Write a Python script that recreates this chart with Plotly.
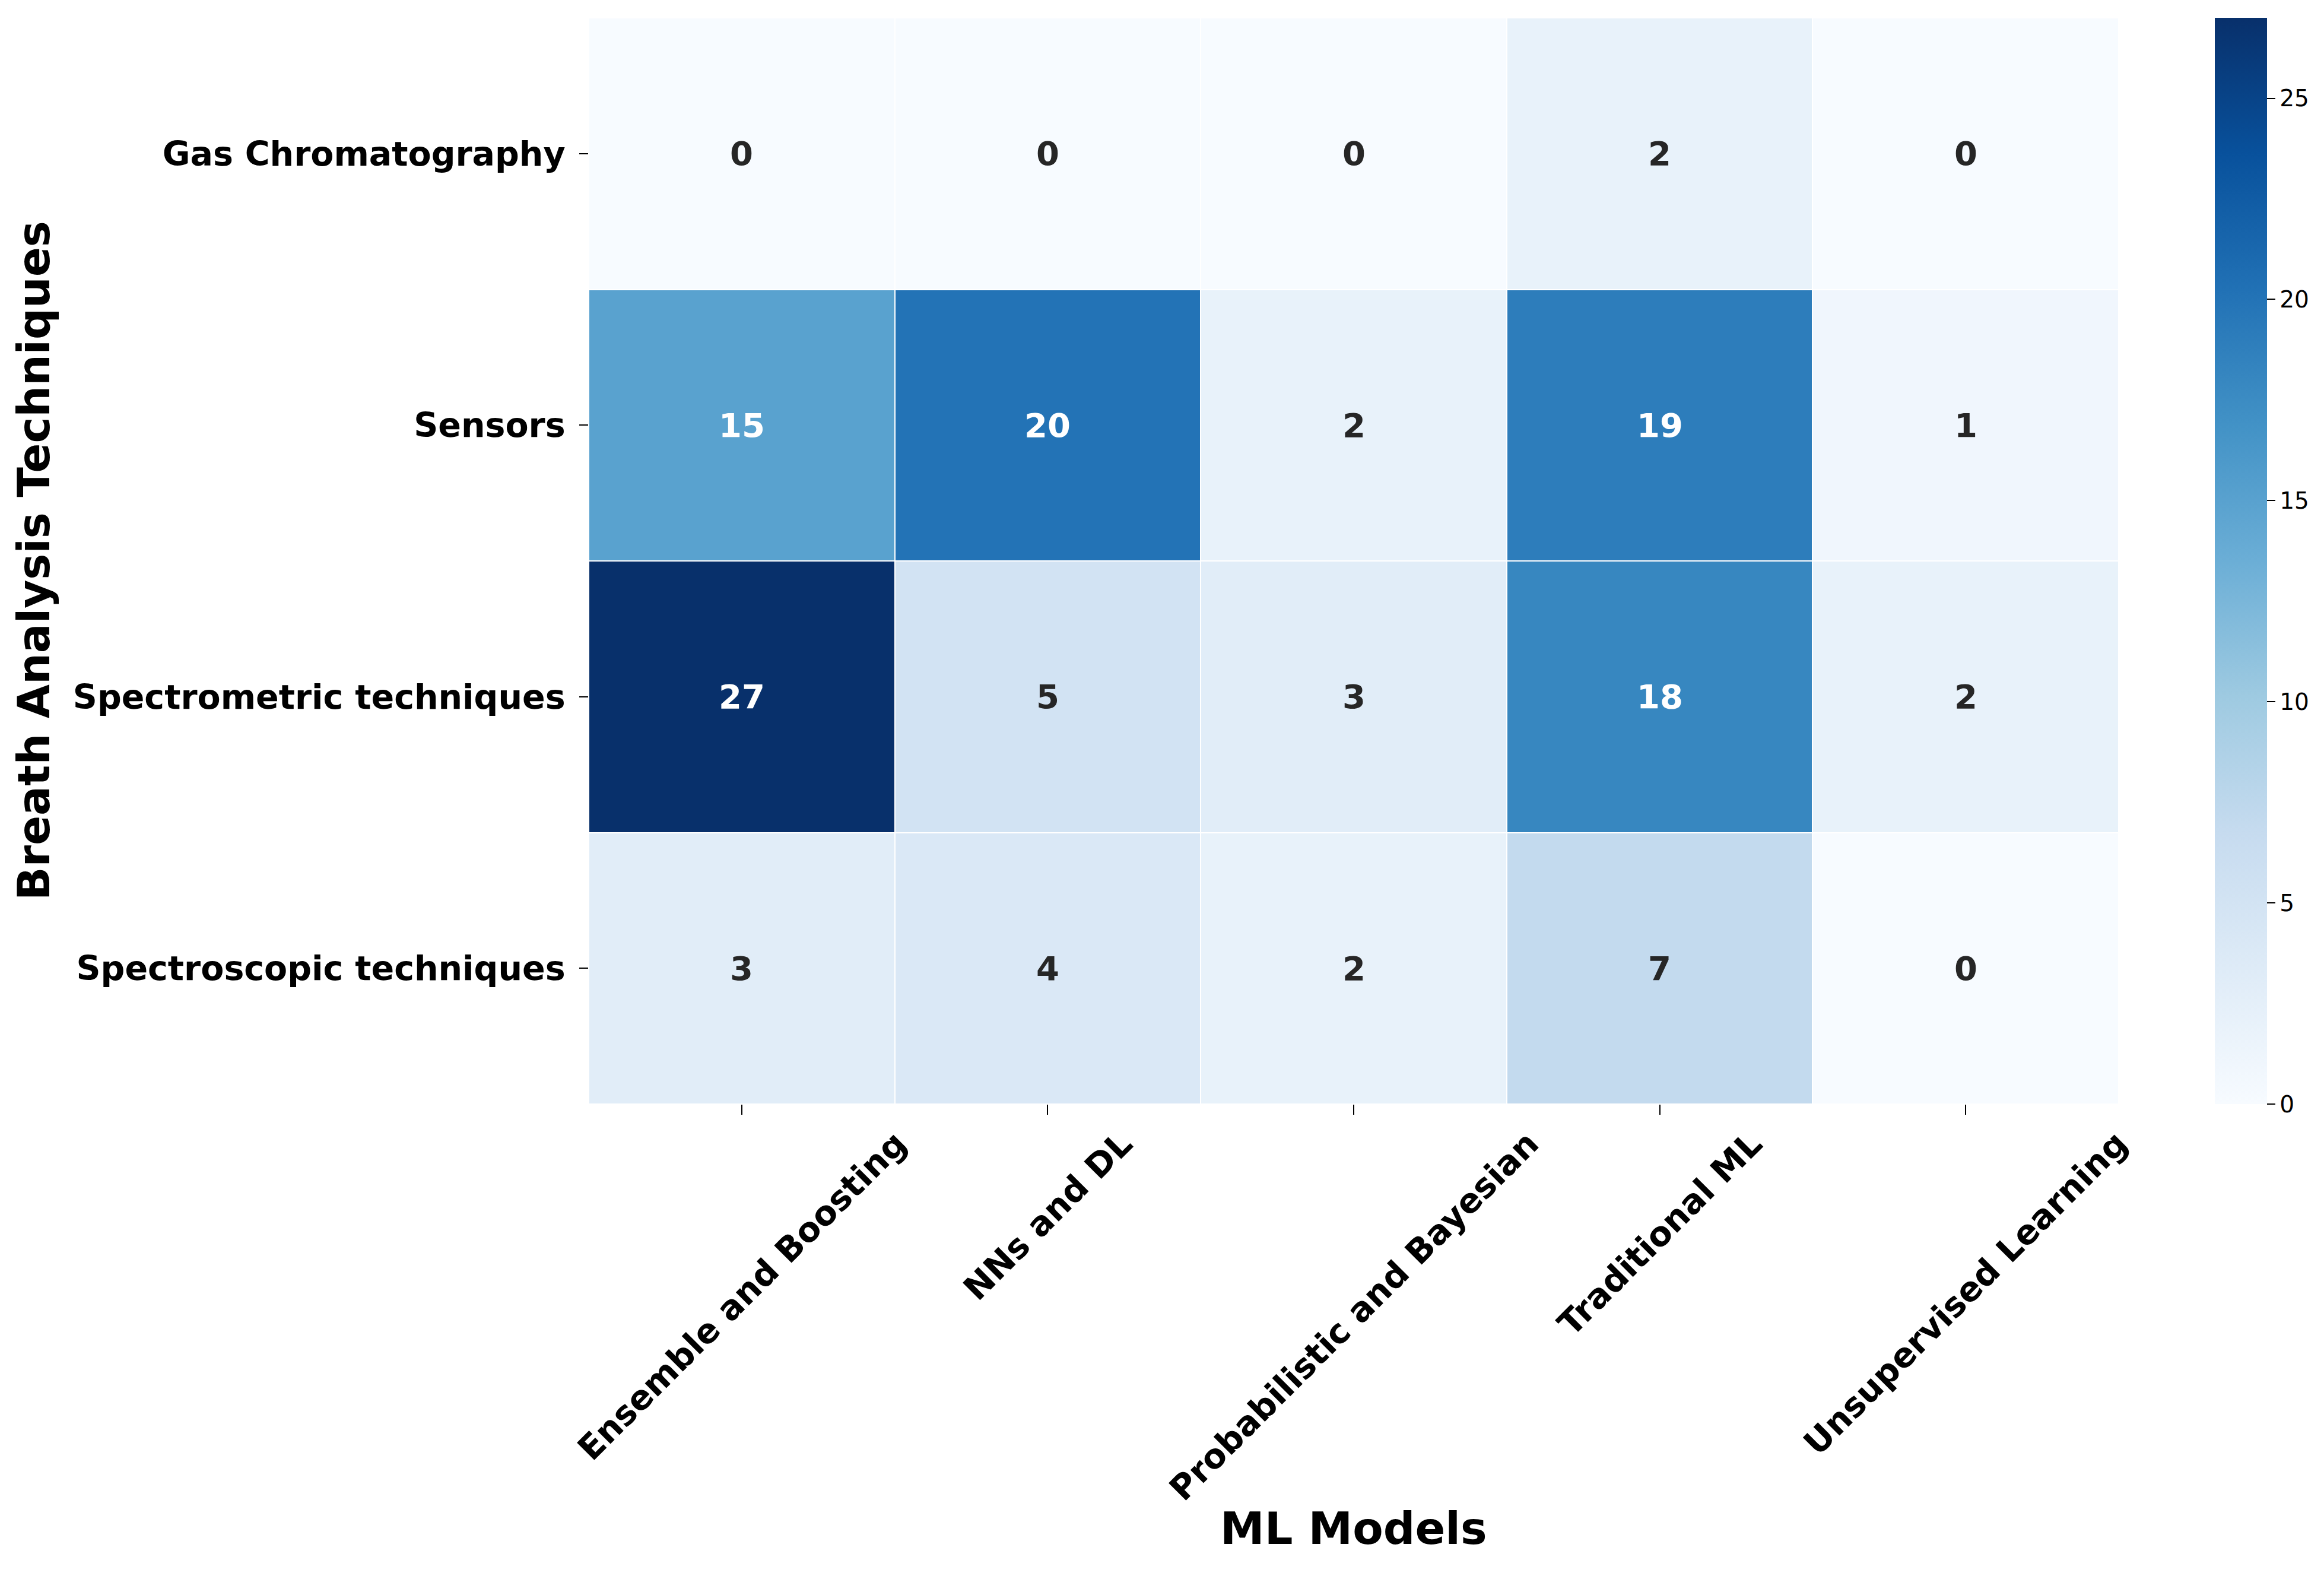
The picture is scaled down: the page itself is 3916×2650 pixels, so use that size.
import plotly.graph_objects as go

ml_models = ["Ensemble and Boosting", "NNs and DL", "Probabilistic and Bayesian",
             "Traditional ML", "Unsupervised Learning"]
techniques = ["Gas Chromatography", "Sensors", "Spectrometric techniques",
              "Spectroscopic techniques"]
gas_chromatography = [0, 0, 0, 2, 0]
sensors = [15, 20, 2, 19, 1]
spectrometric = [27, 5, 3, 18, 2]
spectroscopic = [3, 4, 2, 7, 0]
cbar_ticks = [0, 5, 10, 15, 20, 25]

z = [gas_chromatography, sensors, spectrometric, spectroscopic]
zmin, zmax = 0, 27

blues = ['rgb(247,251,255)', 'rgb(222,235,247)', 'rgb(198,219,239)', 'rgb(158,202,225)',
         'rgb(107,174,214)', 'rgb(66,146,198)', 'rgb(33,113,181)', 'rgb(8,81,156)',
         'rgb(8,48,107)']
colorscale = [[i / (len(blues) - 1), c] for i, c in enumerate(blues)]

FONT = "DejaVu Sans"

fig = go.Figure(go.Heatmap(
    z=z, x=ml_models, y=techniques,
    colorscale=colorscale, zmin=zmin, zmax=zmax,
    xgap=2, ygap=2, hoverinfo="skip",
    colorbar=dict(
        x=1.0628, xanchor="left", xpad=0, y=0.5, yanchor="middle", ypad=0,
        len=1, lenmode="fraction", thickness=88, thicknessmode="pixels",
        outlinewidth=0, tickvals=cbar_ticks, ticks="outside", ticklen=14,
        tickwidth=2, tickcolor="black",
        tickfont=dict(family=FONT, size=39, color="black"),
    ),
))


def lum(v):
    t = (v - zmin) / (zmax - zmin)
    pos = t * (len(blues) - 1)
    i = min(int(pos), len(blues) - 2)
    f = pos - i
    a = [int(s) for s in blues[i][4:-1].split(",")]
    b = [int(s) for s in blues[i + 1][4:-1].split(",")]
    rgb = [(a[k] + (b[k] - a[k]) * f) / 255 for k in range(3)]
    lin = [c / 12.92 if c <= 0.03928 else ((c + 0.055) / 1.055) ** 2.4 for c in rgb]
    return 0.2126 * lin[0] + 0.7152 * lin[1] + 0.0722 * lin[2]


annotations = []
for r, tech in enumerate(techniques):
    for c, model in enumerate(ml_models):
        v = z[r][c]
        annotations.append(dict(
            x=model, y=tech, xref="x", yref="y", text=str(v), showarrow=False,
            font=dict(family=FONT, size=56, weight="bold",
                      color="white" if lum(v) < 0.408 else "#262626"),
        ))

for model in ml_models:
    annotations.append(dict(
        x=model, xref="x", y=0, yref="paper", yshift=-30, text=model,
        showarrow=False, textangle=-45, xanchor="center", yanchor="top",
        font=dict(family=FONT, size=57, weight="bold", color="black"),
    ))

annotations.append(dict(
    x=0.5, xref="paper", y=0, yref="paper", yshift=-715, text="ML Models",
    showarrow=False, xanchor="center", yanchor="middle",
    font=dict(family=FONT, size=75, weight="bold", color="black"),
))
annotations.append(dict(
    x=0, xref="paper", xshift=-935, y=0.5, yref="paper", text="Breath Analysis Techniques",
    showarrow=False, textangle=-90, xanchor="center", yanchor="middle",
    font=dict(family=FONT, size=74, weight="bold", color="black"),
))

fig.update_layout(
    width=3916, height=2650,
    margin=dict(l=984, r=354, t=22, b=798, autoexpand=False),
    paper_bgcolor="white", plot_bgcolor="white",
    annotations=annotations,
    xaxis=dict(range=[-0.5, len(ml_models) - 0.5], autorange=False,
               showticklabels=False, ticks="outside", ticklen=17, tickwidth=2,
               tickcolor="black", showgrid=False, zeroline=False, showline=False),
    yaxis=dict(range=[len(techniques) - 0.5, -0.5], autorange=False,
               ticks="outside", ticklen=15, tickwidth=2,
               tickcolor="black", showgrid=False, zeroline=False, showline=False,
               tickfont=dict(family=FONT, size=57, weight="bold", color="black"),
               ticklabelstandoff=12),
)

fig.write_html("out.html")
